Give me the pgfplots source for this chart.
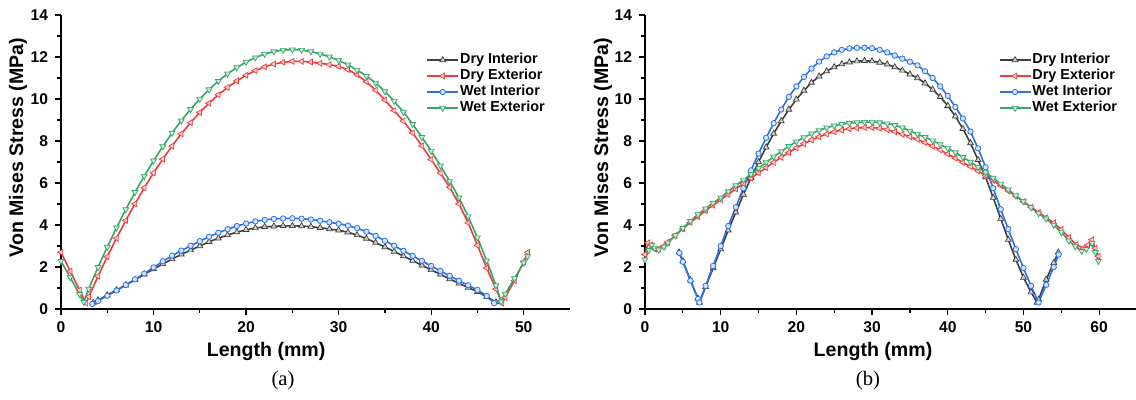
\documentclass[border=0pt]{standalone}
\usepackage{fontspec}
\setmainfont{Liberation Sans}
\newfontfamily\timesfont{Liberation Serif}
\usepackage{pgfplots}
\pgfplotsset{compat=1.18}

\definecolor{dryin}{HTML}{3F3F3F}
\definecolor{dryex}{HTML}{EE3B3B}
\definecolor{wetin}{HTML}{2A72E6}
\definecolor{wetex}{HTML}{34A866}

\pgfplotsset{
  panel/.style={
    scale only axis, height=147pt,
    xmin=0, ymin=0, ymax=14,
    axis lines=left, axis line style={-, line width=0.7pt},
    ytick={0,2,...,14}, minor y tick num=1, minor x tick num=1,
    tick align=outside, major tick length=3pt, minor tick length=1.8pt,
    every tick/.style={black, line width=0.6pt},
    tick label style={font=\fontsize{7.8}{9}\selectfont\bfseries},
    /pgf/number format/assume math mode=true,
    label style={font=\fontsize{9.8}{11}\selectfont\bfseries},
    xlabel={Length (mm)}, ylabel={Von Mises Stress (MPa)},
    legend style={draw=none, fill=none, anchor=north west,
      font=\fontsize{7.2}{8}\selectfont\bfseries,
      row sep=1pt, inner sep=0pt,
      nodes={inner sep=0.5pt, text height=4.9pt, text depth=1.1pt}},
    legend cell align=left,
    legend image code/.code={\draw[line width=0.9pt,mark repeat=2,mark phase=2] plot coordinates {(0pt,0pt)(7.75pt,0pt)(15.5pt,0pt)};},
  },
  dI/.style={dryin, line width=0.8pt, mark=triangle*, mark size=1.7pt, mark options={fill=dryin!25, line width=0.35pt}},
  dE/.style={dryex, line width=0.8pt, mark=triangle*, mark size=1.7pt, mark options={fill=dryex!25, line width=0.35pt, rotate=90}},
  wI/.style={wetin, line width=0.8pt, mark=*, mark size=1.35pt, mark options={fill=wetin!20, line width=0.4pt}},
  wE/.style={wetex, line width=0.8pt, mark=triangle*, mark size=1.7pt, mark options={fill=wetex!25, line width=0.35pt, rotate=180}},
}

\begin{document}
\begin{tikzpicture}
\useasboundingbox (0,0) rectangle (568pt,200pt);

% ---------------- (a)
\begin{axis}[panel, at={(30.5pt,45.5pt)}, anchor=south west,
  width=254.5pt, xmax=55, xtick={0,10,...,50},
  xlabel style={at={(axis description cs:0.403,-0.146)}, anchor=center},
  ylabel style={at={(axis description cs:-0.0845,0.549)}, anchor=center},
  legend style={at={(axis description cs:0.717,0.872)}}]
\addplot[dI] coordinates {
(3.5,0.30) (4,0.42) (5,0.66) (6,0.90) (7,1.14) (8,1.39) (9,1.65) (10,1.90)
(11,2.14) (12,2.38) (13,2.60) (14,2.80) (15,3.00) (16,3.20) (17,3.37) (18,3.52)
(19,3.66) (20,3.77) (21,3.86) (22,3.91) (23,3.94) (24,3.96) (25,3.96) (26,3.95)
(27,3.92) (28,3.87) (29,3.81) (30,3.75) (31,3.65) (32,3.52) (33,3.35) (34,3.16)
(35,2.95) (36,2.74) (37,2.52) (38,2.30) (39,2.08) (40,1.86) (41,1.65) (42,1.43)
(43,1.22) (44,1.02) (45,0.82) (46,0.58) (47,0.33)};
\addlegendentry{Dry Interior}
\addplot[dE] coordinates {
(0,2.70) (1,1.80) (2,0.90) (2.7,0.28) (3,0.58) (4,1.56) (5,2.49) (6,3.37)
(7,4.22) (8,5.01) (9,5.77) (10,6.48) (11,7.14) (12,7.76) (13,8.34) (14,8.87)
(15,9.36) (16,9.80) (17,10.20) (18,10.55) (19,10.86) (20,11.13) (21,11.35) (22,11.53)
(23,11.66) (24,11.75) (25,11.79) (26,11.79) (27,11.76) (28,11.70) (29,11.64) (30,11.55)
(31,11.40) (32,11.15) (33,10.82) (34,10.42) (35,9.95) (36,9.45) (37,8.95) (38,8.38)
(39,7.77) (40,7.12) (41,6.47) (42,5.80) (43,5.00) (44,4.10) (45,3.03) (46,1.95)
(47,0.95) (47.66,0.28) (48,0.55) (49,1.35) (50,2.25) (50.45,2.70)};
\addlegendentry{Dry Exterior}
\addplot[wI] coordinates {
(3.38,0.24) (4,0.38) (5,0.63) (6,0.88) (7,1.14) (8,1.41) (9,1.69) (10,1.98)
(11,2.27) (12,2.54) (13,2.78) (14,3.01) (15,3.23) (16,3.44) (17,3.63) (18,3.80)
(19,3.95) (20,4.07) (21,4.17) (22,4.24) (23,4.29) (24,4.31) (25,4.32) (26,4.30)
(27,4.26) (28,4.20) (29,4.13) (30,4.06) (31,3.97) (32,3.85) (33,3.68) (34,3.48)
(35,3.25) (36,3.01) (37,2.77) (38,2.53) (39,2.29) (40,2.05) (41,1.81) (42,1.58)
(43,1.35) (44,1.13) (45,0.91) (46,0.62) (46.8,0.28)};
\addlegendentry{Wet Interior}
\addplot[wE] coordinates {
(0,2.28) (1,1.50) (2,0.70) (2.45,0.33) (3,0.95) (4,1.99) (5,2.95) (6,3.87)
(7,4.74) (8,5.56) (9,6.33) (10,7.06) (11,7.74) (12,8.38) (13,8.97) (14,9.51)
(15,10.00) (16,10.45) (17,10.85) (18,11.20) (19,11.50) (20,11.76) (21,11.97) (22,12.14)
(23,12.26) (24,12.33) (25,12.35) (26,12.33) (27,12.26) (28,12.15) (29,12.01) (30,11.84)
(31,11.63) (32,11.38) (33,11.09) (34,10.76) (35,10.36) (36,9.90) (37,9.38) (38,8.80)
(39,8.18) (40,7.52) (41,6.82) (42,6.08) (43,5.30) (44,4.40) (45,3.40) (46,2.30)
(47,1.12) (47.55,0.35) (48,0.72) (49,1.45) (50,2.20) (50.4,2.50)};
\addlegendentry{Wet Exterior}
\end{axis}

% ---------------- (b)
\begin{axis}[panel, at={(322.5pt,45.5pt)}, anchor=south west,
  width=246pt, xmax=65, xtick={0,10,...,60},
  xlabel style={at={(axis description cs:0.4635,-0.146)}, anchor=center},
  ylabel style={at={(axis description cs:-0.0854,0.549)}, anchor=center},
  legend style={at={(axis description cs:0.718,0.872)}}]
\addplot[dI] coordinates {
(4.5,2.70) (5,2.28) (6,1.38) (7,0.50) (7.2,0.31) (8,1.05) (9,1.95) (10,2.85)
(11,3.75) (12,4.60) (13,5.45) (14,6.25) (15,7.00) (16,7.70) (17,8.35) (18,8.95)
(19,9.50) (20,9.98) (21,10.40) (22,10.78) (23,11.08) (24,11.33) (25,11.52) (26,11.66)
(27,11.75) (28,11.80) (29,11.82) (30,11.80) (31,11.74) (32,11.65) (33,11.52) (34,11.36)
(35,11.18) (36,11.00) (37,10.75) (38,10.45) (39,10.10) (40,9.68) (41,9.18) (42,8.58)
(43,7.90) (44,7.10) (45,6.28) (46,5.30) (47,4.30) (48,3.30) (49,2.35) (50,1.50)
(51,0.80) (51.8,0.31) (52,0.45) (53,1.40) (54,2.20) (54.6,2.70)};
\addlegendentry{Dry Interior}
\addplot[dE] coordinates {
(0,2.60) (0.4,3.15) (0.8,3.05) (1.3,2.85) (1.8,2.85) (2.5,3.00) (3,3.18) (4,3.50)
(5,3.82) (6,4.12) (7,4.40) (8,4.68) (9,4.94) (10,5.20) (11,5.46) (12,5.72)
(13,5.98) (14,6.23) (15,6.48) (16,6.73) (17,6.98) (18,7.22) (19,7.45) (20,7.67)
(21,7.87) (22,8.05) (23,8.20) (24,8.33) (25,8.44) (26,8.52) (27,8.58) (28,8.62)
(29,8.64) (30,8.64) (31,8.60) (32,8.54) (33,8.44) (34,8.32) (35,8.20) (36,8.08)
(37,7.92) (38,7.75) (39,7.57) (40,7.38) (41,7.18) (42,6.98) (43,6.78) (44,6.57)
(45,6.36) (46,6.12) (47,5.87) (48,5.62) (49,5.37) (50,5.11) (51,4.85) (52,4.60)
(53,4.35) (54,4.10) (55,3.78) (56,3.40) (57,3.06) (57.95,2.90) (58.5,3.05) (59.05,3.30)
(59.5,2.90) (59.9,2.51)};
\addlegendentry{Dry Exterior}
\addplot[wI] coordinates {
(4.54,2.67) (5,2.25) (6,1.35) (7,0.48) (7.18,0.31) (8,1.10) (9,2.05) (10,3.00)
(11,3.95) (12,4.85) (13,5.75) (14,6.60) (15,7.40) (16,8.15) (17,8.85) (18,9.50)
(19,10.10) (20,10.60) (21,11.05) (22,11.45) (23,11.78) (24,12.03) (25,12.22) (26,12.34)
(27,12.41) (28,12.44) (29,12.44) (30,12.42) (31,12.34) (32,12.22) (33,12.07) (34,11.92)
(35,11.77) (36,11.60) (37,11.32) (38,11.00) (39,10.60) (40,10.15) (41,9.62) (42,9.07)
(43,8.45) (44,7.65) (45,6.75) (46,5.75) (47,4.75) (48,3.80) (49,2.85) (50,1.95)
(51,1.10) (52,0.31) (53,1.15) (54,2.00) (54.65,2.59)};
\addlegendentry{Wet Interior}
\addplot[wE] coordinates {
(0,2.35) (0.5,2.80) (0.9,3.05) (1.3,2.90) (1.8,2.82) (2.5,2.95) (3,3.15) (4,3.50)
(5,3.85) (6,4.18) (7,4.50) (8,4.78) (9,5.05) (10,5.30) (11,5.60) (12,5.88)
(13,6.15) (14,6.42) (15,6.70) (16,6.98) (17,7.25) (18,7.50) (19,7.75) (20,7.97)
(21,8.17) (22,8.35) (23,8.50) (24,8.63) (25,8.73) (26,8.80) (27,8.85) (28,8.88)
(29,8.90) (30,8.90) (31,8.88) (32,8.83) (33,8.75) (34,8.63) (35,8.48) (36,8.33)
(37,8.18) (38,8.02) (39,7.84) (40,7.65) (41,7.45) (42,7.23) (43,7.00) (44,6.75)
(45,6.50) (46,6.24) (47,5.96) (48,5.68) (49,5.40) (50,5.12) (51,4.83) (52,4.55)
(53,4.30) (54,4.00) (55,3.65) (56,3.25) (56.85,2.98) (57.7,2.75) (58.3,2.85) (59.05,3.14)
(59.5,2.70) (59.9,2.28)};
\addlegendentry{Wet Exterior}
\end{axis}

\node[font=\timesfont\fontsize{10.3}{12}\selectfont] at (141.5pt,9.5pt) {(a)};
\node[font=\timesfont\fontsize{10.3}{12}\selectfont] at (434pt,9.5pt) {(b)};
\end{tikzpicture}
\end{document}
